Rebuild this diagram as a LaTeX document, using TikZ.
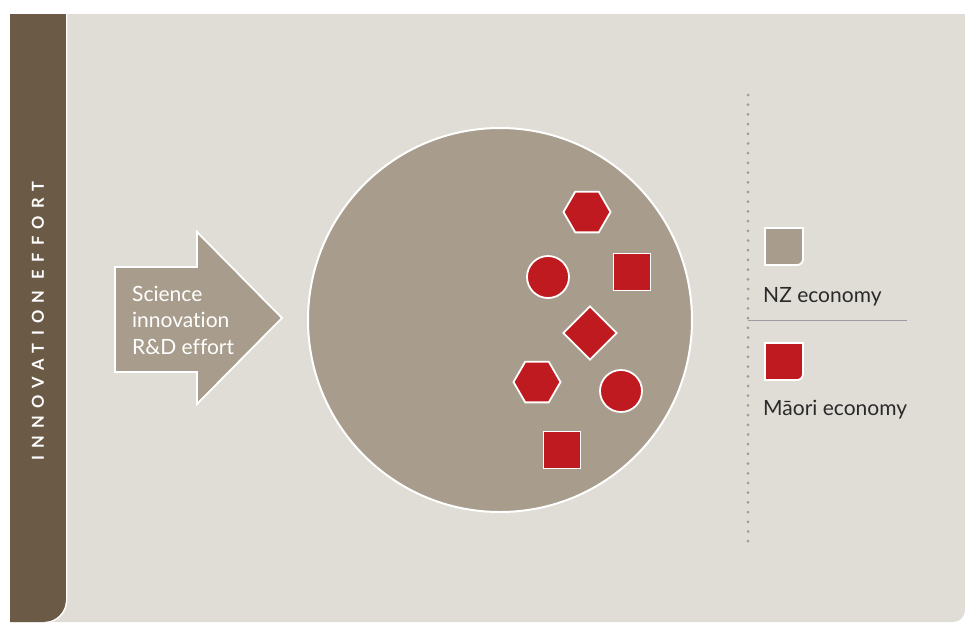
\documentclass[tikz,border=0pt]{standalone}
\usepackage{fontspec}
\setmainfont[Ligatures=NoCommon]{Lato}
\newfontfamily\spacedfont[LetterSpace=44, Ligatures=NoCommon]{Lato}
\usepackage{tikz}
\usetikzlibrary{
  shapes.geometric
}
\definecolor{panel}{HTML}{E0DDD6}
\definecolor{bar}{HTML}{6B5A45}
\definecolor{tan}{HTML}{A89D8C}
\definecolor{maori}{HTML}{BE1A1F}
\definecolor{ink}{HTML}{2A2A2A}
\definecolor{rule}{HTML}{9B9BA3}
\tikzset{
  sidetitle/.style={
    rotate=90,
    text=white,
    font=\spacedfont\bfseries\fontsize{16.5}{18}\selectfont
  },
  arrowtext/.style={
    text=white,
    align=left,
    inner sep=0pt,
    font=\fontsize{21}{26.5}\selectfont
  },
  economy/.style={
    circle,
    fill=tan,
    draw=white,
    line width=2pt,
    minimum size=384pt,
    inner sep=0pt
  },
  redmark/.style={
    fill=maori,
    draw=white,
    line width=1.8pt,
    inner sep=0pt
  },
  hexmark/.style={redmark, regular polygon, regular polygon sides=6, minimum size=47pt},
  dotmark/.style={redmark, circle, minimum size=42pt},
  squaremark/.style={redmark, rectangle, minimum size=37pt},
  diamondmark/.style={redmark, diamond, minimum size=54pt},
  swatch/.style={draw=white, line width=1.8pt},
  legendtext/.style={text=ink, inner sep=0pt, font=\fontsize{21}{24}\selectfont},
  dotline/.style={rule, line width=3pt, line cap=round, dash pattern=on 0pt off 9.7pt},
  legendrule/.style={rule, line width=1pt}
}

\begin{document}
\begin{tikzpicture}[x=1pt, y=-1pt]
  \useasboundingbox (0,0) rectangle (965,622);
  \fill[white] (0,0) rectangle (965,622);

  % panel and side bar
  \fill[panel] (10,14) -- (965,14) -- (965,610)
    arc[start angle=0, end angle=90, radius=12] -- (10,622) -- cycle;
  \fill[bar] (10,14) -- (66,14) -- (66,600)
    arc[start angle=0, end angle=90, radius=22] -- (10,622) -- cycle;
  \draw[white, line width=1.4pt] (66.7,14) -- (66.7,600)
    arc[start angle=0, end angle=90, radius=22.7];
  \node[sidetitle] (title) at (38,321) {INNOVATION EFFORT};

  % input arrow
  \filldraw[fill=tan, draw=white, line width=1.8pt]
    (115,267) -- (197,267) -- (197,232) -- (282,318)
    -- (197,404) -- (197,372) -- (115,372) -- cycle;
  \node[arrowtext, anchor=west] (effort) at (132,320)
    {Science\\innovation\\R\&D effort};

  % economy
  \node[economy] (nz) at (500,320) {};
  \node[hexmark] (hexa) at (587,212) {};
  \node[dotmark] (dota) at (548,277) {};
  \node[squaremark] (sqa) at (632,272) {};
  \node[diamondmark] (dia) at (590,333) {};
  \node[hexmark] (hexb) at (537,382) {};
  \node[dotmark] (dotb) at (621,391) {};
  \node[squaremark] (sqb) at (562,450) {};

  % legend
  \coordinate (ltop) at (748,95);
  \coordinate (lbot) at (748,548);
  \coordinate (lmid) at (748,320);
  \coordinate (lend) at (907,320);
  \draw[dotline] (ltop) -- (lbot);
  \draw[legendrule] (lmid) -- (lend);

  \filldraw[swatch, fill=tan] (765,228) -- (803,228) -- (803,259)
    arc[start angle=0, end angle=90, radius=6] -- (765,265) -- cycle;
  \node[legendtext, anchor=base west] (nzlabel) at (763,302) {NZ economy};

  \filldraw[swatch, fill=maori] (765,343) -- (803,343) -- (803,374)
    arc[start angle=0, end angle=90, radius=6] -- (765,380) -- cycle;
  \node[legendtext, anchor=base west] (maorilabel) at (763,415) {Māori economy};
\end{tikzpicture}
\end{document}
